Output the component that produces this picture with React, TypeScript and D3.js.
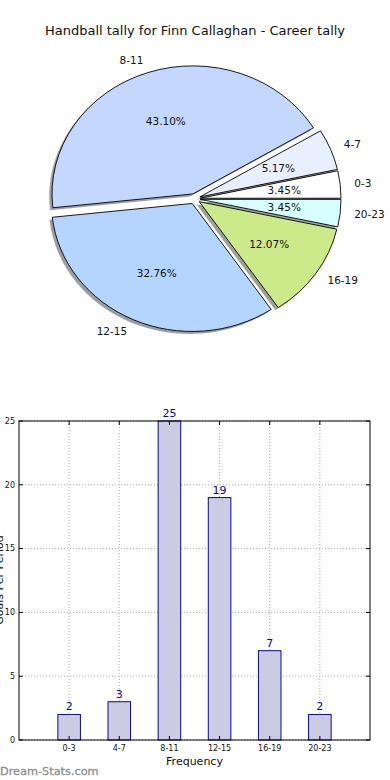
import React from 'react'
import * as d3 from 'd3'

// data
const categories = ['0-3', '4-7', '8-11', '12-15', '16-19', '20-23']
const tally = [2, 3, 25, 19, 7, 2]
const sliceColors = ['#ffffff', '#e8f0ff', '#c4d8ff', '#b4d5ff', '#cdea8a', '#d8ffff']
const yTicks = [0, 5, 10, 15, 20, 25]

const title = 'Handball tally for Finn Callaghan - Career tally'
const W = 390
const H = 780

function PieChart() {
  const cx = 194.6, cy = 198.8
  const rx = 140.8, ry = 128
  const explode = 0.04
  const total = d3.sum(tally)

  const pie = d3.pie<number>()
    .sort(null)
    .startAngle(Math.PI / 2)
    .endAngle(Math.PI / 2 - 2 * Math.PI)
  const arcs = pie(tally)
  // unit arc, stretched into an ellipse like the old matplotlib pie
  const arc = d3.arc<d3.PieArcDatum<number>>().innerRadius(0).outerRadius(1)

  const slices = arcs.map((a, i) => {
    const mid = (a.startAngle + a.endAngle) / 2
    const ux = Math.sin(mid), uy = -Math.cos(mid)
    const ox = cx + ux * explode * rx
    const oy = cy + uy * explode * ry
    return { a, i, ux, uy, ox, oy }
  })

  return (
    <g>
      <text x={W / 2} y={35} textAnchor="middle" fontSize={13} fill="#111">{title}</text>
      {/* shadows under every wedge */}
      {slices.map(s => {
        const c = d3.rgb(sliceColors[s.i])
        const dark = d3.rgb(c.r * 0.3, c.g * 0.3, c.b * 0.3)
        return (
          <path key={'sh' + s.i}
            d={arc(s.a) || ''}
            transform={`translate(${s.ox - 0.02 * rx},${s.oy + 0.02 * ry}) scale(${rx},${ry})`}
            fill={dark.toString()} fillOpacity={0.5}
            stroke="none" />
        )
      })}
      {slices.map(s => (
        <path key={'w' + s.i}
          d={arc(s.a) || ''}
          transform={`translate(${s.ox},${s.oy}) scale(${rx},${ry})`}
          fill={sliceColors[s.i]} stroke="#000" strokeWidth={0.9}
          vectorEffect="non-scaling-stroke" />
      ))}
      {slices.map(s => (
        <text key={'l' + s.i}
          x={s.ox + s.ux * 1.1 * rx} y={s.oy + s.uy * 1.1 * ry}
          dy="0.35em" fontSize={10.5} fill="#111"
          textAnchor={s.ux < 0 ? 'end' : 'start'}>{categories[s.i]}</text>
      ))}
      {slices.map(s => (
        <text key={'p' + s.i}
          x={s.ox + s.ux * 0.6 * rx} y={s.oy + s.uy * 0.6 * ry}
          dy="0.35em" fontSize={10.5} fill="#111" textAnchor="middle">
          {(tally[s.i] / total * 100).toFixed(2) + '%'}
        </text>
      ))}
    </g>
  )
}

function BarChart() {
  const left = 19, right = 370, top = 421, bottom = 740
  const x = d3.scaleLinear().domain([-1, 6]).range([left, right])
  const y = d3.scaleLinear().domain([0, 25]).range([bottom, top])
  const barW = x(0.45) - x(0)
  const idx = d3.range(categories.length)

  return (
    <g>
      {/* grid */}
      {yTicks.map(t => (
        <line key={'gy' + t} x1={left} x2={right} y1={y(t)} y2={y(t)}
          stroke="#b0b0b0" strokeDasharray="1,2" />
      ))}
      {idx.map(i => (
        <line key={'gx' + i} x1={x(i)} x2={x(i)} y1={top} y2={bottom}
          stroke="#b0b0b0" strokeDasharray="1,2" />
      ))}
      {/* bars */}
      {idx.map(i => (
        <rect key={'b' + i} x={x(i) - barW / 2} y={y(tally[i])}
          width={barW} height={bottom - y(tally[i])}
          fill="#cbcce3" stroke="#0a0a8c" strokeWidth={1} />
      ))}
      {idx.map(i => (
        <text key={'v' + i} x={x(i)} y={y(tally[i]) - 4} textAnchor="middle"
          fontSize={11} fill="#0a0a8c">{tally[i]}</text>
      ))}
      {/* frame */}
      <rect x={left} y={top} width={right - left} height={bottom - top}
        fill="none" stroke="#000" strokeWidth={1} />
      {/* ticks, inward on all sides */}
      {yTicks.map(t => (
        <g key={'ty' + t}>
          <line x1={left} x2={left + 4} y1={y(t)} y2={y(t)} stroke="#000" />
          <line x1={right - 4} x2={right} y1={y(t)} y2={y(t)} stroke="#000" />
          <text x={left - 4} y={y(t)} dy="0.35em" textAnchor="end" fontSize={8} fill="#111">{t}</text>
        </g>
      ))}
      {idx.map(i => (
        <g key={'tx' + i}>
          <line x1={x(i)} x2={x(i)} y1={bottom} y2={bottom - 4} stroke="#000" />
          <line x1={x(i)} x2={x(i)} y1={top} y2={top + 4} stroke="#000" />
          <text x={x(i)} y={bottom + 11} textAnchor="middle" fontSize={8} fill="#111">{categories[i]}</text>
        </g>
      ))}
      <text x={(left + right) / 2} y={765} textAnchor="middle" fontSize={11} fill="#111">Frequency</text>
      {/* y label sits mostly off the left edge, as in the source image */}
      <text transform={`translate(3,580) rotate(-90)`} textAnchor="middle" fontSize={11} fill="#111">Goals Per Period</text>
      <text x={0} y={775} fontSize={11.3} fill="#8c8c8c" stroke="#8c8c8c" strokeWidth={0.3}>Dream-Stats.com</text>
    </g>
  )
}

export default function App() {
  return (
    <svg width={W} height={H} viewBox={`0 0 ${W} ${H}`}
      style={{ position: 'absolute', left: 0, top: 0, fontFamily: 'DejaVu Sans, sans-serif', background: '#fff' }}>
      <rect width={W} height={H} fill="#fff" />
      <PieChart />
      <BarChart />
    </svg>
  )
}
